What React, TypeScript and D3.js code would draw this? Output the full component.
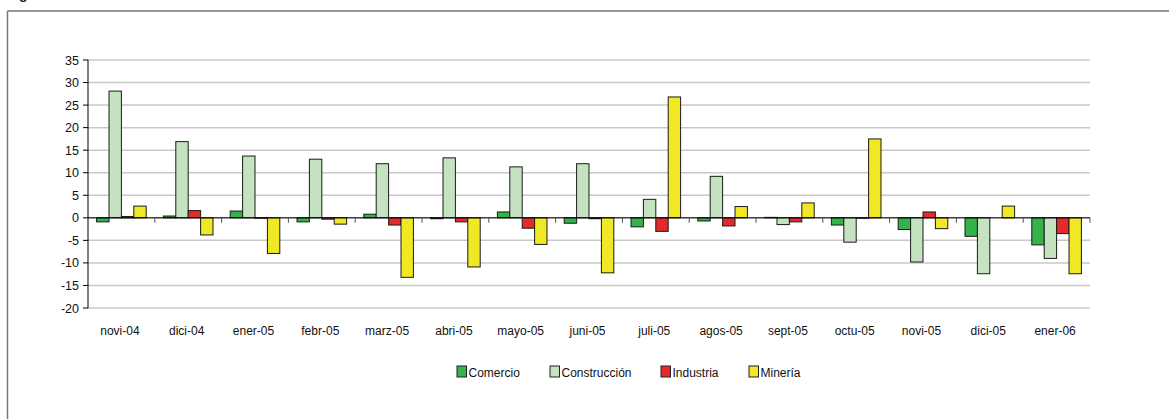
import React from "react";
import * as d3 from "d3";

const categories = [
  "novi-04", "dici-04", "ener-05", "febr-05", "marz-05", "abri-05", "mayo-05",
  "juni-05", "juli-05", "agos-05", "sept-05", "octu-05", "novi-05", "dici-05", "ener-06",
];
const series = ["Comercio", "Construcción", "Industria", "Minería"];
const comercio = [-0.9, 0.4, 1.5, -0.9, 0.8, -0.2, 1.3, -1.2, -2.0, -0.7, 0.1, -1.6, -2.6, -4.1, -6.0];
const construccion = [28.1, 16.9, 13.7, 13.0, 12.0, 13.3, 11.3, 12.0, 4.1, 9.2, -1.5, -5.4, -9.8, -12.4, -9.0];
const industria = [0.3, 1.6, -0.1, -0.3, -1.6, -0.9, -2.3, -0.2, -3.0, -1.8, -0.9, -0.1, 1.3, 0, -3.5];
const mineria = [2.6, -3.8, -7.9, -1.4, -13.2, -10.9, -5.9, -12.2, 26.8, 2.5, 3.3, 17.5, -2.4, 2.6, -12.4];
const yTicks = [-20, -15, -10, -5, 0, 5, 10, 15, 20, 25, 30, 35];
const colors = ["#34b34a", "#c5e3c1", "#e42a2a", "#f0e824"];

const W = 1169;
const H = 419;
const left = 88;
const right = 1090;
const top = 60;
const bottom = 308;
const font = "'Liberation Sans Narrow', 'Arial Narrow', 'Liberation Sans', sans-serif";

const App = () => {
  const values = [comercio, construccion, industria, mineria];
  const x0 = d3.scaleBand<string>().domain(categories).range([left, right]).padding(0);
  const step = x0.step();
  const x1 = d3.scaleBand<string>().domain(series).range([8.6, step - 8.6]).padding(0);
  const y = d3.scaleLinear().domain([-20, 35]).range([bottom, top]);
  const legendX = [457, 550, 661, 749];

  return (
    <svg width={W} height={H} style={{ position: "absolute", left: 0, top: 0, background: "#fff" }}>
      {/* cut-off title */}
      <text x={19} y={-1} fontFamily={font} fontWeight="bold" fontSize={14} fill="#222">g</text>
      {/* frame */}
      <line x1={7.5} x2={W} y1={11} y2={11} stroke="#333" />
      <line x1={7.5} x2={7.5} y1={11} y2={H} stroke="#777" strokeWidth={1.5} />

      {yTicks.map((t) => (
        <g key={t}>
          <line x1={left} x2={right} y1={y(t)} y2={y(t)} stroke="#c8c8c8" strokeWidth={1.5} />
          <line x1={left - 5} x2={left} y1={y(t)} y2={y(t)} stroke="#000" />
          <text x={79} y={y(t) + 4.5} textAnchor="end" fontFamily={font} fontSize={12.5} fill="#111">
            {t}
          </text>
        </g>
      ))}

      {series.map((s, si) =>
        categories.map((c, ci) => {
          const v = values[si][ci];
          const bx = (x0(c) as number) + (x1(s) as number);
          return (
            <rect
              key={s + c}
              x={bx}
              y={Math.min(y(v), y(0))}
              width={x1.bandwidth()}
              height={Math.abs(y(v) - y(0))}
              fill={colors[si]}
              stroke="#1a1a1a"
              strokeWidth={1}
            />
          );
        })
      )}

      <line x1={left} x2={right} y1={y(0)} y2={y(0)} stroke="#000" />
      {categories.map((c) => (
        <line
          key={"t" + c}
          x1={(x0(c) as number) + step}
          x2={(x0(c) as number) + step}
          y1={y(0)}
          y2={y(0) + 5}
          stroke="#555"
        />
      ))}
      <line x1={left} x2={left} y1={top} y2={bottom} stroke="#000" />

      {categories.map((c) => (
        <text
          key={"l" + c}
          x={(x0(c) as number) + step / 2 - 1.5}
          y={335}
          textAnchor="middle"
          fontFamily={font}
          fontSize={12}
          fill="#111"
        >
          {c}
        </text>
      ))}

      {series.map((s, si) => (
        <g key={"lg" + s}>
          <rect x={legendX[si]} y={366} width={9.5} height={11} fill={colors[si]} stroke="#222" />
          <text x={legendX[si] + 11.5} y={377} fontFamily={font} fontSize={12} fill="#111">
            {s}
          </text>
        </g>
      ))}
    </svg>
  );
};

export default App;
